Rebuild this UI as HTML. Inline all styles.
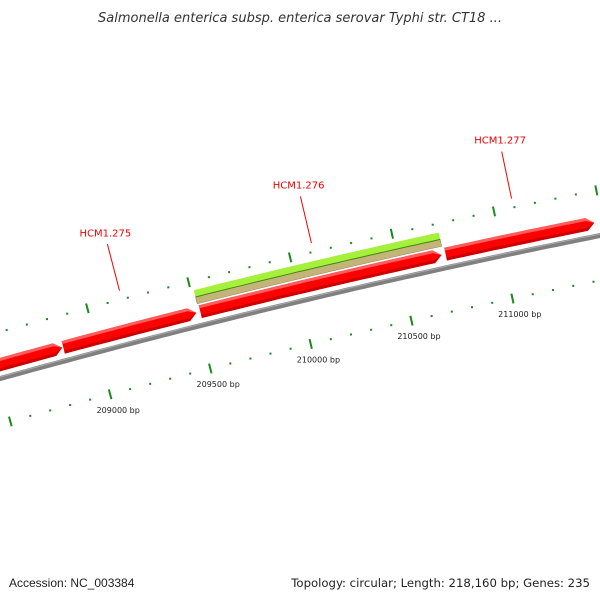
<!DOCTYPE html>
<html><head><meta charset="utf-8"><style>
body{margin:0;background:#fff;width:600px;height:600px;overflow:hidden;font-family:"Liberation Sans",sans-serif}
svg{display:block}
</style></head><body>
<svg id="c" width="600" height="600">
<text x="300" y="22" text-anchor="middle" font-size="13" font-style="italic" font-family="DejaVu Sans, sans-serif" fill="#333">Salmonella enterica subsp. enterica serovar Typhi str. CT18 ...</text>
<text x="9" y="587" font-size="12" fill="#222">Accession: NC_003384</text>
<text x="590" y="587" text-anchor="end" font-size="11.7" font-family="DejaVu Sans, sans-serif" fill="#222">Topology: circular; Length: 218,160 bp; Genes: 235</text>
<g id="plot"></g>
</svg>
<script>
const geneNames = ["HCM1.274", "HCM1.275", "HCM1.276", "HCM1.277"];
const geneStarts = [208450, 208840, 209520, 210730];
const geneEnds = [208835, 209500, 210710, 211460];
const labeledGenes = ["HCM1.275", "HCM1.276", "HCM1.277"];
const featureStart = [209515];
const featureEnd = [210720];
const tickStart = 208000;
const tickEnd = 212000;
const majorStep = 500;
const minorStep = 100;

const NS = "http://www.w3.org/2000/svg";
const plot = document.getElementById("plot");
const CX = 2247, CY = 8472.5, R = 8400, TH0 = -0.2586, K = 2.475e-5, BP0 = 209000;
function pt(bp, off) {
  const th = TH0 + (bp - BP0) * K, r = R + off;
  return [CX + r * Math.sin(th), CY - r * Math.cos(th)];
}
function arc(b1, b2, off) {
  const out = []; const n = Math.max(2, Math.ceil(Math.abs(b2 - b1) / 40));
  for (let i = 0; i <= n; i++) out.push(pt(b1 + (b2 - b1) * i / n, off));
  return out;
}
function mk(tag, attrs) {
  const e = document.createElementNS(NS, tag);
  for (const k in attrs) e.setAttribute(k, attrs[k]);
  plot.appendChild(e); return e;
}
function ps(arr) { return arr.map(p => p[0].toFixed(1) + "," + p[1].toFixed(1)).join(" "); }

// backbone
let bb = mk("polygon", {points: ps(arc(207000, 212500, 2.5).concat(arc(212500, 207000, -2.5))), fill: "#808080"});


let bb2 = mk("polyline", {points: ps(arc(207000, 212500, 1.5)), fill: "none", stroke: "#aaaaaa", "stroke-width": 1});



// ticks
for (let bp = tickStart; bp <= tickEnd; bp += minorStep) {
  const major = bp % majorStep === 0;
  [45, -44].forEach(off => {
    let e;
    if (major) {
      const a = pt(bp, off + 5), b = pt(bp, off - 5);
      e = mk("line", {x1: a[0], y1: a[1], x2: b[0], y2: b[1], stroke: "#1a8a1a", "stroke-width": 2});
    } else {
      const a = pt(bp, off);
      e = mk("rect", {x: a[0] - 1, y: a[1] - 1, width: 2, height: 2, fill: "#1a8a1a"});
    }
    
    
  });
  if (major) {
    const l = pt(bp, -60);
    if (l[0] > 40 && l[0] < 580) {
      const t = mk("text", {x: l[0] + 4, y: l[1] + 3, "text-anchor": "middle", "font-size": 8, "font-family": "DejaVu Sans, sans-serif", fill: "#222"});
      t.textContent = bp + " bp";
      
      
    }
  }
}

// feature (green/khaki)
for (let i = 0; i < featureStart.length; i++) {
  const kh = mk("polygon", {points: ps(arc(featureStart[i], featureEnd[i], 29).concat(arc(featureEnd[i], featureStart[i], 22))), fill: "#c4b47a", stroke: "#8f8450", "stroke-width": 0.5});
  
  
  const gr = mk("polygon", {points: ps(arc(featureStart[i], featureEnd[i], 36).concat(arc(featureEnd[i], featureStart[i], 29))), fill: "#a4f03a"});
  
  
  const ln = mk("polyline", {points: ps(arc(featureStart[i], featureEnd[i], 29)), fill: "none", stroke: "#3f8a10", "stroke-width": 1});
  
  
}

// genes
const HEAD = 38;
for (let i = 0; i < geneNames.length; i++) {
  const s = geneStarts[i], e = geneEnds[i], hs = Math.max(s, e - HEAD);
  const poly = arc(s, hs, 20).concat([pt(e, 13.5)], arc(hs, s, 7));
  const g = mk("polygon", {points: ps(poly), fill: "#ff0000"});
  
  
  const hi = mk("polygon", {points: ps(arc(s, hs, 20).concat([pt(e, 13.5)], arc(hs, s, 17))), fill: "#ff5c5c"});
  
  
  const sh = mk("polygon", {points: ps(arc(s, hs, 10).concat([pt(e, 13.5)], arc(hs, s, 7))), fill: "#cc0000"});
  
  
  if (labeledGenes.indexOf(geneNames[i]) >= 0) {
    const mid = (s + e) / 2;
    const a = pt(mid, 54), b = pt(mid, 102), c = pt(mid, 110);
    const ln = mk("line", {x1: a[0], y1: a[1], x2: b[0], y2: b[1], stroke: "#e00", "stroke-width": 1});
    
    
    const t = mk("text", {x: c[0], y: c[1], "text-anchor": "middle", "font-size": 10, "font-family": "DejaVu Sans, sans-serif", fill: "#e00"});
    t.textContent = geneNames[i];
    
    
  }
}
</script>
</body></html>
